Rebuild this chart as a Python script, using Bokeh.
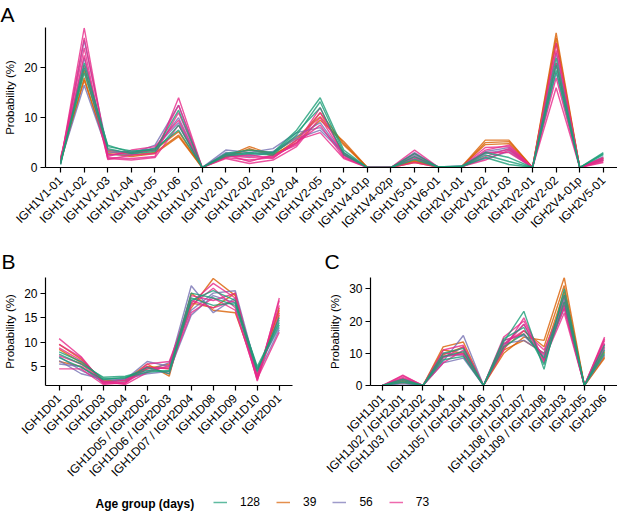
import math
from bokeh.plotting import figure
from bokeh.models import Range1d, FixedTicker, Label, Legend, LegendItem
from bokeh.layouts import column, row
from bokeh.embed import file_html
from bokeh.resources import INLINE

FONT = "Liberation Sans"

AGE_GROUPS = ["128", "39", "56", "73"]
COLORS = {"128": "#1B9E77", "39": "#D95F02", "56": "#7570B3", "73": "#E7298A"}
DRAW_ORDER = ["39", "56", "73", "128"]

# ---------------- Panel A : V genes ----------------
V_GENES = ["IGH1V1-01", "IGH1V1-02", "IGH1V1-03", "IGH1V1-04", "IGH1V1-05", "IGH1V1-06",
           "IGH1V1-07", "IGH1V2-01", "IGH1V2-02", "IGH1V2-03", "IGH1V2-04", "IGH1V2-05",
           "IGH1V3-01", "IGH1V4-01p", "IGH1V4-02p", "IGH1V5-01", "IGH1V6-01", "IGH2V1-01",
           "IGH2V1-02", "IGH2V1-03", "IGH2V2-01", "IGH2V2-02", "IGH2V4-01p", "IGH2V5-01"]
V_128 = [
    [0.8, 20.0, 4.5, 3.0, 3.8, 7.5, 0, 2.8, 3.5, 3.0, 7.5, 14.0, 3.5, 0, 0, 2.2, 0.1, 0.2, 2.0, 0.6, 0, 20.5, 0, 3.0],
    [1.2, 19.0, 3.8, 2.8, 3.2, 8.5, 0, 2.3, 2.8, 2.5, 6.5, 13.2, 3.0, 0, 0, 1.6, 0.1, 0.3, 3.0, 2.0, 0, 22.0, 0, 2.6],
    [0.6, 21.0, 4.2, 3.3, 3.5, 11.5, 0, 2.6, 3.0, 2.8, 7.0, 12.0, 2.6, 0, 0, 2.8, 0.1, 0.2, 2.5, 1.2, 0, 19.5, 0, 2.8],
]
V_39 = [
    [1.5, 17.5, 3.2, 2.5, 3.0, 6.5, 0, 2.2, 4.2, 2.6, 5.0, 9.5, 5.2, 0, 0, 1.2, 0.1, 0.2, 5.5, 5.5, 0, 27.0, 0, 1.8],
    [1.0, 18.0, 2.8, 2.2, 2.8, 6.2, 0, 2.0, 3.8, 2.3, 5.5, 11.0, 4.8, 0, 0, 1.0, 0.1, 0.1, 5.0, 5.2, 0, 25.0, 0, 1.5],
    [1.8, 19.5, 3.5, 2.8, 3.6, 7.2, 0, 2.5, 3.5, 2.9, 6.0, 10.2, 4.5, 0, 0, 1.4, 0.1, 0.2, 4.6, 4.8, 0, 26.0, 0, 2.0],
]
V_56 = [
    [0.7, 25.5, 3.5, 2.8, 4.5, 12.5, 0, 3.5, 3.0, 3.8, 7.0, 8.0, 3.0, 0, 0, 3.0, 0.1, 0.3, 3.2, 4.0, 0, 21.0, 0, 1.8],
    [1.3, 16.5, 3.0, 3.2, 3.8, 10.0, 0, 3.0, 2.6, 3.2, 6.2, 9.0, 2.5, 0, 0, 2.0, 0.1, 0.2, 2.8, 3.6, 0, 19.0, 0, 1.5],
    [1.0, 22.0, 2.6, 2.5, 4.0, 9.0, 0, 2.7, 2.2, 3.0, 5.8, 7.5, 2.8, 0, 0, 2.5, 0.1, 0.2, 1.8, 3.2, 0, 23.0, 0, 2.2],
]
V_73 = [
    [1.0, 28.0, 2.0, 1.8, 2.2, 14.0, 0, 2.0, 1.5, 2.0, 5.0, 8.5, 2.0, 0, 0, 3.5, 0.1, 0.1, 3.5, 4.5, 0, 16.0, 0, 1.5],
    [1.5, 24.0, 1.6, 2.5, 2.8, 11.0, 0, 1.8, 0.8, 1.5, 4.2, 10.0, 2.5, 0, 0, 1.8, 0.1, 0.1, 2.2, 3.8, 0, 18.0, 0, 1.0],
    [0.8, 22.5, 2.2, 3.5, 4.2, 9.5, 0, 2.4, 2.0, 2.2, 4.8, 12.0, 2.2, 0, 0, 2.2, 0.1, 0.2, 4.0, 4.2, 0, 23.5, 0, 2.0],
    [2.0, 20.5, 1.8, 1.5, 2.0, 8.5, 0, 2.2, 2.5, 1.8, 5.5, 7.0, 1.8, 0, 0, 1.0, 0.1, 0.1, 3.0, 3.0, 0, 25.0, 0, 1.2],
    [1.2, 26.0, 2.5, 3.0, 3.4, 12.5, 0, 2.6, 1.2, 2.5, 4.5, 11.0, 2.8, 0, 0, 2.8, 0.1, 0.2, 1.5, 3.5, 0, 21.0, 0, 1.8],
]
V_YTICKS = [0, 10, 20]

# ---------------- Panel B : D genes ----------------
D_GENES = ["IGH1D01", "IGH1D02", "IGH1D03", "IGH1D04", "IGH1D05 / IGH2D02", "IGH1D06 / IGH2D03",
           "IGH1D07 / IGH2D04", "IGH1D08", "IGH1D09", "IGH1D10", "IGH2D01"]
D_128 = [
    [7.5, 5.5, 2.8, 3.0, 4.2, 4.0, 19.0, 17.5, 18.0, 5.0, 14.0],
    [8.0, 6.0, 2.5, 2.6, 4.8, 3.5, 18.5, 20.5, 18.5, 4.5, 13.5],
    [6.8, 4.8, 2.3, 2.8, 3.8, 4.2, 20.0, 19.0, 17.5, 4.0, 15.0],
]
D_39 = [
    [9.5, 6.5, 2.0, 2.2, 5.5, 3.0, 20.0, 16.5, 16.0, 3.5, 16.5],
    [6.0, 5.0, 1.8, 2.5, 4.5, 5.5, 17.0, 23.0, 19.5, 3.0, 15.5],
    [8.5, 5.8, 2.2, 2.0, 5.0, 4.5, 18.0, 17.0, 20.0, 2.8, 17.0],
]
D_56 = [
    [6.2, 3.5, 2.4, 2.3, 6.0, 5.0, 21.5, 16.0, 19.0, 4.5, 13.0],
    [7.0, 4.2, 2.0, 2.0, 4.0, 5.8, 16.5, 20.0, 20.5, 3.8, 14.5],
    [5.5, 5.0, 1.6, 2.5, 3.5, 4.0, 15.5, 19.5, 18.0, 3.2, 12.5],
]
D_73 = [
    [10.7, 7.0, 1.5, 1.5, 5.5, 6.0, 18.0, 22.0, 19.0, 2.0, 19.0],
    [4.5, 4.5, 1.3, 1.8, 4.8, 4.5, 16.0, 19.0, 16.5, 2.5, 12.0],
    [8.8, 6.2, 2.0, 1.3, 3.8, 5.2, 19.5, 18.5, 20.0, 3.0, 17.5],
    [9.5, 6.8, 1.6, 2.2, 5.0, 3.5, 17.5, 21.0, 17.0, 2.2, 16.0],
    [7.2, 5.5, 1.8, 1.6, 4.5, 4.8, 18.5, 17.0, 18.5, 2.7, 18.5],
]
D_YTICKS = [5, 10, 15, 20]

# ---------------- Panel C : J genes ----------------
J_GENES = ["IGH1J01", "IGH1J02 / IGH2J01", "IGH1J03 / IGH2J02", "IGH1J04", "IGH1J05 / IGH2J04",
           "IGH1J06", "IGH1J07", "IGH1J08 / IGH2J07", "IGH1J09 / IGH2J08", "IGH2J03", "IGH2J05", "IGH2J06"]
J_128 = [
    [0, 1.5, 0, 9.0, 10.5, 0, 13.5, 23.0, 5.0, 30.0, 0, 11.0],
    [0, 1.0, 0, 8.0, 9.0, 0, 12.0, 16.0, 8.5, 28.0, 0, 10.0],
    [0, 2.0, 0, 10.0, 11.5, 0, 14.5, 18.0, 6.5, 26.0, 0, 12.5],
]
J_39 = [
    [0, 1.2, 0, 12.0, 13.5, 0, 10.0, 15.0, 14.0, 33.5, 0, 9.0],
    [0, 0.8, 0, 11.0, 10.0, 0, 11.5, 17.0, 12.0, 31.0, 0, 8.5],
    [0, 1.5, 0, 9.5, 12.0, 0, 11.0, 14.0, 10.0, 29.0, 0, 10.5],
]
J_56 = [
    [0, 1.0, 0, 7.5, 15.5, 0, 13.0, 14.0, 10.0, 25.0, 0, 9.5],
    [0, 2.0, 0, 9.0, 9.5, 0, 14.0, 15.5, 9.0, 27.0, 0, 11.5],
    [0, 0.5, 0, 7.0, 8.5, 0, 12.5, 19.0, 8.0, 24.0, 0, 13.0],
]
J_73 = [
    [0, 3.2, 0, 8.5, 12.0, 0, 15.0, 20.0, 8.0, 22.5, 0, 15.0],
    [0, 2.5, 0, 10.0, 9.5, 0, 13.0, 17.0, 11.0, 26.0, 0, 13.0],
    [0, 3.0, 0, 7.0, 11.0, 0, 12.0, 19.0, 7.0, 28.0, 0, 14.0],
    [0, 1.8, 0, 9.0, 10.0, 0, 14.0, 16.0, 9.5, 24.0, 0, 12.0],
    [0, 2.2, 0, 11.0, 12.5, 0, 11.0, 21.0, 7.5, 25.0, 0, 14.5],
]
J_YTICKS = [0, 10, 20, 30]

PANEL_A = {"128": V_128, "39": V_39, "56": V_56, "73": V_73}
PANEL_B = {"128": D_128, "39": D_39, "56": D_56, "73": D_73}
PANEL_C = {"128": J_128, "39": J_39, "56": J_56, "73": J_73}

LINE_ALPHA = 0.8
LINE_WIDTH = 1.4


def make_panel(cats, data, yticks, yrange, xpad, width, height, borders,
               letter, letter_offset, letter_valign, letter_standoff):
    n = len(cats)
    p = figure(width=width, height=height, output_backend="svg", toolbar_location=None,
               x_range=Range1d(-xpad[0], n - 1 + xpad[1]), y_range=Range1d(*yrange),
               min_border_left=borders[0], min_border_right=borders[1],
               min_border_top=borders[2], min_border_bottom=borders[3])
    p.outline_line_color = None
    p.xgrid.visible = False
    p.ygrid.visible = False
    for g in DRAW_ORDER:
        for series in data[g]:
            p.line(list(range(n)), series, line_color=COLORS[g], line_alpha=LINE_ALPHA,
                   line_width=LINE_WIDTH)
    p.xaxis.ticker = FixedTicker(ticks=list(range(n)))
    p.xaxis.major_label_overrides = {i: c for i, c in enumerate(cats)}
    p.xaxis.major_label_orientation = math.pi / 4
    p.yaxis.ticker = FixedTicker(ticks=yticks)
    p.yaxis.axis_label = "Probability (%)"
    for ax in (p.xaxis[0], p.yaxis[0]):
        ax.axis_line_color = "black"
        ax.axis_line_width = 1.2
        ax.major_tick_line_color = "black"
        ax.major_tick_line_width = 1.2
        ax.major_tick_out = 5
        ax.major_tick_in = 0
        ax.minor_tick_line_color = None
        ax.major_label_text_font = FONT
        ax.major_label_text_font_size = "12px"
        ax.major_label_text_color = "black"
        ax.axis_label_text_font = FONT
        ax.axis_label_text_font_size = "11.5px"
        ax.axis_label_text_font_style = "normal"
        ax.axis_label_text_color = "black"
    p.yaxis.major_label_standoff = 3
    p.yaxis.axis_label_standoff = 5
    p.xaxis.major_label_standoff = 6
    p.title.text = letter
    p.title.text_font = FONT
    p.title.text_font_size = "21px"
    p.title.text_font_style = "normal"
    p.title.text_color = "black"
    p.title.align = "left"
    p.title.offset = letter_offset
    p.title.vertical_align = letter_valign
    p.title.standoff = letter_standoff
    return p


pA = make_panel(V_GENES, PANEL_A, V_YTICKS, (0, 28.1), (0.64, 0.6), 617, 240,
                (45, 0, 27, 73), "A", -45, "top", 0)
pB = make_panel(D_GENES, PANEL_B, D_YTICKS, (1.1, 23.2), (0.62, 0.6), 300, 247,
                (45, 8, 37, 102), "B", -44, "bottom", 9)
pC = make_panel(J_GENES, PANEL_C, J_YTICKS, (0, 33.5), (0.6, 0.64), 317, 247,
                (70, 0, 37, 102), "C", -46, "bottom", 9)

# ---------------- Legend strip (its frame is aligned with panel A's frame, x = 45) ----------------
FRAME_X0 = 45
pL = figure(width=617, height=24, output_backend="svg", toolbar_location=None,
            x_range=Range1d(0, 1), y_range=Range1d(0, 1),
            x_axis_location=None, y_axis_location=None,
            min_border_left=0, min_border_right=0, min_border_top=0, min_border_bottom=0)
pL.xgrid.visible = False
pL.ygrid.visible = False
pL.outline_line_color = None
items = []
nan = float("nan")
for g in AGE_GROUPS:
    r = pL.line([nan, nan], [nan, nan], line_color=COLORS[g], line_alpha=0.7, line_width=1.5)
    items.append(LegendItem(label=g, renderers=[r]))
legend = Legend(items=items, orientation="horizontal", location=(213 - FRAME_X0, 2),
                padding=0, margin=0, spacing=16, glyph_width=14, glyph_height=12,
                label_height=12, label_width=1, label_standoff=13,
                label_text_font=FONT, label_text_font_size="12px", label_text_color="black",
                border_line_color=None, background_fill_alpha=0)
pL.add_layout(legend, "center")
pL.add_layout(Label(x=95 - FRAME_X0, y=8, x_units="screen", y_units="screen",
                    text="Age group (days)",
                    text_font=FONT, text_font_size="12px", text_font_style="bold",
                    text_color="black", text_baseline="middle", text_align="left"))

layout = column(pA, row(pB, pC), pL)
open("out.html", "w").write(file_html(layout, INLINE))
